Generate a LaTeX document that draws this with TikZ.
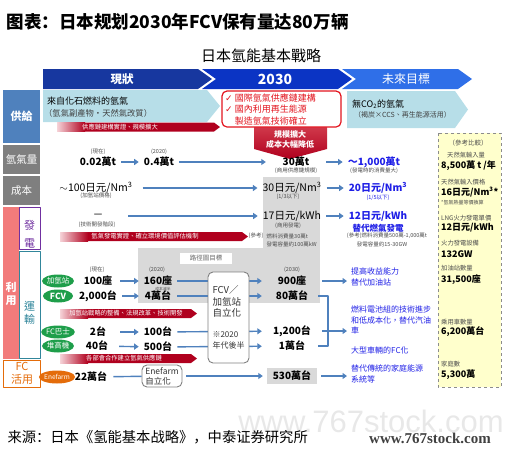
\documentclass[tikz,border=0pt]{standalone}
\usepackage{fontspec}
\setmainfont{Noto Sans CJK TC}
\newfontfamily\scfont{Noto Sans CJK SC}
\newfontfamily\symfont{DejaVu Sans}
\newfontfamily\wmfont{Liberation Sans}
\newfontfamily\wmserif{Liberation Serif}
\usetikzlibrary{arrows.meta,shapes.geometric}
\definecolor{HeadNavy}{HTML}{17379F}
\definecolor{HeadBlue}{HTML}{0B34C4}
\definecolor{HeadLight}{HTML}{2F6FE8}
\definecolor{SupplyBlue}{HTML}{4F81BD}
\definecolor{SideGray}{HTML}{7F7F7F}
\definecolor{UsePink}{HTML}{F27B7B}
\definecolor{PowerPurple}{HTML}{7030A0}
\definecolor{TransTeal}{HTML}{31869B}
\definecolor{FcOrange}{HTML}{E46C0A}
\definecolor{PaleBlue}{HTML}{B7DEE8}
\definecolor{AlertRed}{HTML}{E3141E}
\definecolor{BarDark}{HTML}{B0001E}
\definecolor{BarMid}{HTML}{D0384A}
\definecolor{BarLight}{HTML}{F6D3D8}
\definecolor{ArrowBlue}{HTML}{4F81BD}
\definecolor{GoalBlue}{HTML}{1F1FE6}
\definecolor{RoadGray}{HTML}{D9D9D9}
\definecolor{RefYellow}{HTML}{FFFFCC}
\definecolor{BadgeGreen}{HTML}{1E9E4A}

\begin{document}
\begin{tikzpicture}[x=1pt,y=-1pt,line join=round,
  num/.style={font=\bfseries\fontsize{10}{12}\selectfont,inner sep=1pt},
  val/.style={font=\fontsize{10.5}{12}\selectfont,inner sep=1pt},
  note/.style={font=\fontsize{5.5}{6.5}\selectfont,text=black!70,inner sep=0.5pt},
  goal/.style={font=\fontsize{8}{10.5}\selectfont,text=GoalBlue,anchor=west,align=left,inner sep=0pt},
  arr/.style={ArrowBlue,line width=1.4pt,-{Triangle[length=4.5pt,width=6pt]},shorten <=4pt,shorten >=4pt},
  link/.style={ArrowBlue,line width=1.4pt},
  badge/.style={ellipse,fill=BadgeGreen,text=white,minimum width=30pt,minimum height=13pt,inner sep=0pt,font=\fontsize{7.5}{8}\selectfont},
  side/.style={text=white,font=\bfseries\fontsize{11}{12}\selectfont,align=center},
  hdr/.style={text=white,font=\bfseries\fontsize{11.5}{12}\selectfont},
  bartxt/.style={text=white,font=\fontsize{6.3}{7}\selectfont,inner sep=0pt},
  rbox/.style={draw=black!50,line width=0.9pt,fill=white,rounded corners=5pt,align=left,text=black!80},
  refl/.style={anchor=west,font=\fontsize{6.3}{7}\selectfont,text=black!70,inner sep=0pt},
  refv/.style={anchor=west,font=\bfseries\fontsize{9}{10}\selectfont,inner sep=0pt}]
\useasboundingbox (0,0) rectangle (509,451);

% titles
\node[anchor=west,font=\scfont\bfseries\fontsize{17.5}{19}\selectfont] (title) at (3,22) {图表：日本规划2030年FCV保有量达80万辆};
\node[font=\fontsize{15}{16}\selectfont] (head) at (261,56) {日本氫能基本戰略};

% timeline
\fill[HeadNavy] (43,69) -- (198,69) -- (212,79) -- (198,89) -- (43,89) -- cycle;
\fill[HeadBlue] (202,69) -- (338,69) -- (352,79) -- (338,89) -- (202,89) -- (216,79) -- cycle;
\fill[HeadLight] (342,69) -- (458,69) -- (472,79) -- (458,89) -- (342,89) -- (356,79) -- cycle;
\node[hdr] (now) at (122,79) {現狀};
\node[hdr,font=\bfseries\fontsize{14}{14}\selectfont] (mid) at (275,79) {2030};
\node[hdr,font=\fontsize{12}{12}\selectfont] (future) at (406,79) {未來目標};

% side labels
\fill[SupplyBlue] (3,90) rectangle (40,143);
\fill[SideGray] (3,145) rectangle (40,174);
\fill[SideGray] (3,176) rectangle (40,205);
\fill[UsePink] (3,207) rectangle (19,359);
\draw[PowerPurple,line width=1pt] (19.5,207.5) rectangle (40,249.5);
\draw[TransTeal,line width=1pt] (19.5,251) rectangle (40,358.5);
\draw[FcOrange,line width=1pt] (3.5,360.5) rectangle (40.5,387);
\node[side] (hsup) at (21.5,116) {供給};
\node[side,font=\fontsize{10.5}{12}\selectfont] (hqty) at (21.5,159.5) {氫氣量};
\node[side,font=\fontsize{10.5}{12}\selectfont] (hcost) at (21.5,190.5) {成本};
\node[side,font=\bfseries\fontsize{11}{12.5}\selectfont] (huse) at (11,294) {利\\用};
\node[side,text=PowerPurple,font=\fontsize{11}{18}\selectfont] (hpow) at (29.5,234) {發\\電};
\node[side,text=TransTeal,font=\fontsize{11}{13.5}\selectfont] (htra) at (29.5,313) {運\\輸};
\node[side,text=FcOrange,font=\fontsize{11}{12.5}\selectfont] (hfc) at (22,373.5) {FC\\活用};

% backgrounds
\fill[RoadGray] (263,177) rectangle (320,248);
\fill[RoadGray] (138,248) rectangle (320,303);
\draw[dashed,black!45,fill=RefYellow] (438,133) rectangle (501,387);

% supply
\fill[PaleBlue] (43,90) -- (207,90) -- (220,106) -- (207,122) -- (43,122) -- cycle;
\node[anchor=west,font=\fontsize{9}{10}\selectfont,inner sep=0pt] (fossil) at (47,101) {來自化石燃料的氫氣};
\node[anchor=west,font=\fontsize{8.3}{9}\selectfont,text=black!75,inner sep=0pt] (fossilsub) at (44,113) {（氫氣副產物・天然氣改質）};
\shade[top color=BarMid,bottom color=BarDark] (254,127) -- (327,127) -- (327,149) -- (290,159) -- (254,149) -- cycle;
\node[text=white,font=\bfseries\fontsize{8}{10}\selectfont,align=center] (scale) at (290,139) {規模擴大\\成本大幅降低};
\draw[AlertRed,line width=1.2pt,fill=white,rounded corners=5pt] (222,91) rectangle (341,127);
\node[anchor=west,text=AlertRed,font=\fontsize{9}{11.5}\selectfont,align=left,inner sep=0pt] (plan) at (225,109) {{\symfont ✓} 國際氫氣供應鏈建構\\{\symfont ✓} 國內利用再生能源\\\phantom{{\symfont ✓} }製造氫氣技術確立};
\fill[PaleBlue] (347,91) -- (455,91) -- (468,109.5) -- (455,128) -- (347,128) -- cycle;
\node[anchor=west,font=\fontsize{9}{10}\selectfont,inner sep=0pt] (clean) at (352,104) {無CO\textsubscript{2}的氫氣};
\node[anchor=west,font=\fontsize{7}{8}\selectfont,text=black!75,inner sep=0pt] (cleansub) at (354,115) {（褐炭×CCS、再生能源活用）};

% red bars
\foreach \xa/\xb/\xt/\yc/\lbl [count=\i] in {57/220/120/127/{供應鏈建構實證、規模擴大},60/248/145/236.5/{氫氣發電實證、確立環境價值評估機制},60/197/126/313.5/{加氫站戰略的整備、法規改革、技術開發},60/197/124/358.5/{各部會合作建立氫氣供應鏈}}{
  \fill[BarDark] (\xa,\yc-4.5) -- (\xb-6,\yc-4.5) -- (\xb,\yc) -- (\xb-6,\yc+4.5) -- (\xa,\yc+4.5) -- cycle;
  \shade[left color=BarLight,right color=BarDark] (\xa,\yc-4.5) rectangle (\xa+28,\yc+4.5);
  \node[bartxt] (bar\i) at (\xt,\yc) {\lbl};
}

% hydrogen quantity
\node[note] (q0t) at (98,152) {(現在)};
\node[num] (q0) at (98,162) {0.02萬t};
\node[note] (q1t) at (159,152) {(2020)};
\node[num] (q1) at (159,162) {0.4萬t};
\node[num,minimum width=52pt] (q2) at (296,162) {30萬t};
\node[note] (q2n) at (296,171) {(商用供應鏈規模)};
\node[num,text=GoalBlue] (q3) at (374,162) {～1,000萬t};
\node[note] (q3n) at (374,171) {(發電時的消費量大)};

% cost
\node[val] (c0) at (96,188) {$\sim$100日元/Nm\textsuperscript{3}};
\node[note] (c0n) at (96,196) {(加氫站價格)};
\node[val] (c1) at (292,188) {30日元/Nm\textsuperscript{3}};
\node[note] (c1n) at (288,197) {(1/3以下)};
\node[num,text=GoalBlue] (c2) at (378,188) {20日元/Nm\textsuperscript{3}};
\node[note,text=GoalBlue] (c2n) at (378,198) {(1/5以下)};

% power
\node[val] (p0) at (98,216) {－};
\node[note] (p0n) at (97,225) {(技術開發階段)};
\node[val] (p1) at (292,216) {17日元/kWh};
\node[note] (p1n) at (288,226) {(商用發電)};
\node[num,text=GoalBlue] (p2) at (378,216) {12日元/kWh};
\node[font=\bfseries\fontsize{8.5}{10}\selectfont,text=GoalBlue] (p2b) at (378,228) {替代燃氣發電};
\node[note] (pr1) at (256,236) {(參考)};
\node[note,anchor=west] (pr2) at (266,236) {燃料消費量30萬t};
\node[note,anchor=west] (pr3) at (266,244) {發電容量約100萬kW};
\node[note] (pr4) at (387,236) {(參考)燃料消費量500萬-1,000萬t};
\node[note] (pr5) at (382,244) {發電容量約15-30GW};

% transport
\node[fill=white,text=black!60,font=\fontsize{6.5}{7}\selectfont,minimum width=52pt,minimum height=11pt,inner sep=0pt] (road) at (206,258) {路徑圖目標};
\node[badge] (bst) at (58,281) {加氫站};
\node[badge,font=\bfseries\fontsize{8.5}{9}\selectfont] (bfcv) at (58,296) {FCV};
\node[badge] (bbus) at (58,332) {FC巴士};
\node[badge] (bfork) at (58,346) {堆高機};
\node[note] (t0n) at (97,270) {(現在)};
\node[num,minimum width=36pt] (t0) at (98,281) {100座};
\node[num,minimum width=36pt] (t1) at (98,296) {2,000台};
\node[note] (t2n) at (157,270) {(2020)};
\node[num,minimum width=30pt] (t2) at (158,281) {160座};
\node[note,font=\fontsize{3.8}{4}\selectfont] (t2c) at (163,289) {成本減半};
\node[num,minimum width=30pt] (t3) at (158,296) {4萬台};
\node[note] (t4n) at (292,270) {(2030)};
\node[num,minimum width=52pt] (t4) at (292,281) {900座};
\node[num,minimum width=52pt] (t5) at (292,296) {80萬台};
\node[num,minimum width=36pt] (t6) at (98,332) {2台};
\node[num,minimum width=36pt] (t7) at (97,346) {40台};
\node[num,minimum width=30pt] (t8) at (158,332) {100台};
\node[num,minimum width=30pt] (t9) at (158,347) {500台};
\node[num,minimum width=52pt] (t10) at (292,331) {1,200台};
\node[num,minimum width=52pt] (t11) at (292,346) {1萬台};

% fc use
\node[badge,fill=FcOrange,font=\fontsize{6.5}{7}\selectfont] (bene) at (57,377) {Enefarm};
\node[num] (e0) at (91,377) {22萬台};
\node[num,fill=RoadGray,minimum width=50pt,minimum height=16pt] (f2) at (292,376) {530萬台};

% goals
\node[goal] (g0) at (351,277) {提高收益能力\\替代加油站};
\node[goal] (g1) at (351,320) {燃料電池組的技術進步\\和低成本化，替代汽油\\車};
\node[goal] (g2) at (351,350) {大型車輛的FC化};
\node[goal] (g3) at (351,374) {替代傳統的家庭能源\\系統等};

% reference
\node[font=\fontsize{6.5}{7}\selectfont,text=black!70] (ref0) at (468,143) {（參考比較）};
\node[refl] (ref1) at (447,155) {天然氣輸入量};
\node[refv] (ref2) at (441,166) {8,500萬 t /年};
\node[refl] (ref3) at (441,182) {天然氣輸入價格};
\node[refv] (ref4) at (441,192) {16日元/Nm\textsuperscript{3}*};
\node[refl,font=\fontsize{5}{6}\selectfont] (ref5) at (441,203) {*氫氣熱量等價換算};
\node[refl] (ref6) at (441,218) {LNG火力發電單價};
\node[refv] (ref7) at (441,228) {12日元/kWh};
\node[refl] (ref8) at (441,243) {火力發電設備};
\node[refv] (ref9) at (441,254) {132GW};
\node[refl] (ref10) at (441,268) {加油站數量};
\node[refv] (ref11) at (441,280) {31,500座};
\node[refl] (ref12) at (441,322) {乘用車數量};
\node[refv] (ref13) at (441,332) {6,200萬台};
\node[refl] (ref14) at (441,364) {家庭數};
\node[refv] (ref15) at (441,375) {5,300萬};

% connectors
\draw[arr] (q0) -- (q1);
\draw[arr] (q1) -- (q2);
\draw[arr] (q2) -- (q3);
\draw[arr,shorten <=9pt] (c0) -- (c1);
\draw[arr] (c1) -- (c2);
\draw[arr,shorten <=24pt] (p0) -- (p1);
\draw[arr] (p1) -- (p2);
\draw[arr] (t0) -- (t2);
\draw[arr] (t1) -- (t3);
\draw[arr] (t6) -- (t8);
\draw[arr] (t7) -- (t9);
\draw[arr] (t2) -- (t4);
\draw[arr] (t3) -- (t5);
\draw[arr] (t8) -- (t10);
\draw[arr] (t9) -- (t11);
\draw[arr] (t4) -- (t4 -| g0.west);
\coordinate (merge) at (328,331);
\draw[link] (t5) -| (merge);
\draw[link] (t11) -| (merge);
\draw[arr] (t10) -- (t10 -| g1.west);

% milestone boxes
\node[rbox,minimum width=41pt,minimum height=91pt,font=\fontsize{9.5}{11.5}\selectfont] (fcvbox) at (228.5,317.5) {FCV／\\加氫站\\自立化\\[9pt]{\fontsize{8}{9.5}\selectfont ※2020}\\{\fontsize{8}{9.5}\selectfont 年代後半}};
\node[rbox,minimum width=40pt,minimum height=22pt,inner sep=2pt,font=\fontsize{8.5}{10}\selectfont] (enebox) at (162,376) {Enefarm\\自立化};
\draw[link,shorten <=5pt] (e0) -- (enebox);
\draw[arr] (enebox) -- (f2);
\draw[arr] (f2) -- (f2 -| g3.west);

% source
\node[font=\wmfont\fontsize{31}{31}\selectfont,text=black!9] (wm) at (371,421) {www.767stock.com};
\node[anchor=west,font=\scfont\fontsize{14.3}{15}\selectfont] (src) at (4,437) {来源：日本《氢能基本战略》，中泰证券研究所};
\node[font=\wmserif\bfseries\fontsize{15}{15}\selectfont,text=black!75] (wmsmall) at (430,438) {www.767stock.com};
\end{tikzpicture}
\end{document}
